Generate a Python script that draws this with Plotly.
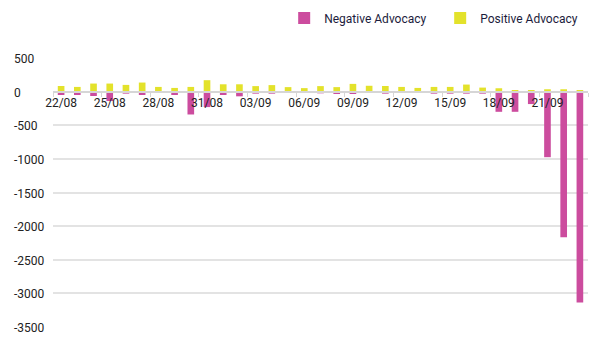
import plotly.graph_objects as go

dates = ["22/08", "23/08", "24/08", "25/08", "26/08", "27/08", "28/08", "29/08", "30/08", "31/08",
         "01/09", "02/09", "03/09", "04/09", "05/09", "06/09", "07/09", "08/09", "09/09", "10/09",
         "11/09", "12/09", "13/09", "14/09", "15/09", "16/09", "17/09", "18/09", "19/09", "20/09",
         "21/09", "22/09", "23/09"]
negative = [-50, -50, -65, -140, -30, -50, -15, -50, -340, -230,
            -50, -70, -30, -30, -18, -18, -25, -35, -35, -20,
            -30, -15, -15, -30, -30, -30, -30, -300, -300, -185,
            -975, -2165, -3135]
positive = [84, 70, 120, 120, 100, 135, 70, 55, 70, 170,
            109, 109, 82, 97, 67, 52, 82, 67, 115, 87,
            84, 70, 55, 70, 70, 105, 60, 50, 20, 20,
            35, 35, 15]
y_ticks = [500, 0, -500, -1000, -1500, -2000, -2500, -3000, -3500]
y_tick_text = ["500", "0", "-500", "-1000", "-1500", "-2000", "-2500", "-3000", "-3500"]

FONT = "Roboto"

fig = go.Figure()
fig.add_trace(go.Bar(x=dates, y=negative, name="Negative Advocacy", marker_color="#CC4C9E",
                     marker_line_width=0))
fig.add_trace(go.Bar(x=dates, y=positive, name="Positive Advocacy", marker_color="#E3E22B",
                     marker_line_width=0))

annotations = [
    dict(text=t, x=0, xref="paper", xshift=-41, xanchor="left", y=v, yref="y", yshift=-1,
         showarrow=False, font=dict(family=FONT, size=12, color="#222222"))
    for v, t in zip(y_ticks, y_tick_text)
]

fig.update_layout(
    width=604, height=354,
    margin=dict(l=53, r=16, t=58, b=27, autoexpand=False),
    paper_bgcolor="white", plot_bgcolor="white",
    barmode="relative", bargap=0.59,
    font=dict(family=FONT, size=12, color="#222222"),
    showlegend=True,
    legend=dict(orientation="h", xref="container", x=0.4705, xanchor="left",
                yref="container", y=0.949, yanchor="middle",
                font=dict(family=FONT, size=12, color="#1c1c3c"),
                entrywidth=111, entrywidthmode="pixels", traceorder="normal",
                bgcolor="rgba(0,0,0,0)"),
    xaxis=dict(type="category", anchor="free", position=0.875,
               showline=True, linecolor="#d6d6d6", linewidth=2,
               ticks="outside", ticklen=4, tickcolor="#d6d6d6", tickson="boundaries",
               dtick=3, tick0=0, showgrid=False, tickangle=0, automargin=False,
               tickfont=dict(family=FONT, size=12, color="#222222")),
    yaxis=dict(range=[-3500, 500], tickvals=y_ticks, showticklabels=False, automargin=False,
               showgrid=True, gridcolor="#e3e3e3", gridwidth=1.5, zeroline=False),
    annotations=annotations,
)

fig.write_html("out.html")
